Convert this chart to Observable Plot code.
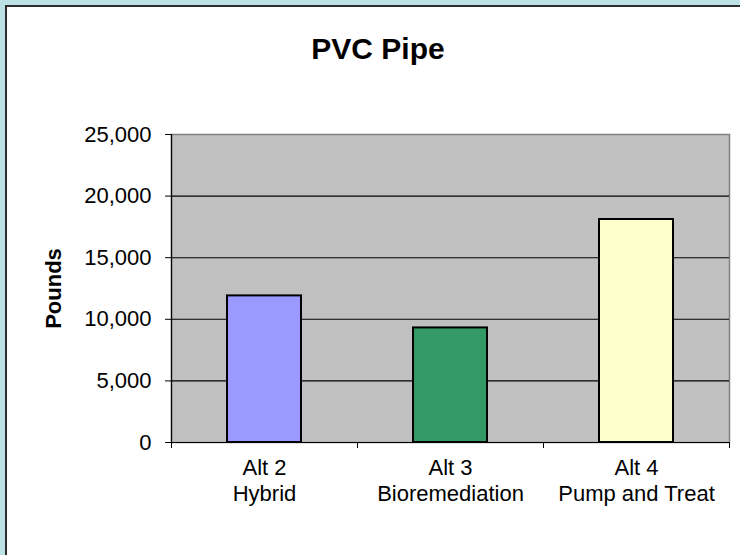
<!DOCTYPE html>
<html>
<head>
<meta charset="utf-8">
<script src="https://cdn.jsdelivr.net/npm/d3@7"></script>
<script src="https://cdn.jsdelivr.net/npm/@observablehq/plot@0.6"></script>
<style>
  html, body { margin: 0; padding: 0; width: 740px; height: 555px; overflow: hidden; background: #BDE2E5; font-family: "Liberation Sans", Arial, sans-serif; }
  #panel { position: absolute; left: 5px; top: 5px; width: 800px; height: 600px; background: #fff; border-left: 2px solid #2e2e2e; border-top: 2px solid #2e2e2e; }
  #title { position: absolute; left: 0; top: 34px; width: 756px; text-align: center; font-size: 30px; line-height: 30px; font-weight: bold; color: #000; }
  #chart { position: absolute; left: 0; top: 0; }
</style>
</head>
<body>
<div id="panel"></div>
<div id="title">PVC Pipe</div>
<div id="chart"></div>
<script>
const categories = ["Alt 2\nHybrid", "Alt 3\nBioremediation", "Alt 4\nPump and Treat"];
const pounds = [11900, 9300, 18100];
const barColors = ["#9999FF", "#339966", "#FFFFCC"];
const yTicks = [0, 5000, 10000, 15000, 20000, 25000];
const gridValues = [5000, 10000, 15000, 20000];

const data = categories.map((c, i) => ({cat: c, value: pounds[i], color: barColors[i], i}));
const bounds = d3.range(categories.length + 1);
const fmt = d3.format(",");

const chart = Plot.plot({
  width: 740,
  height: 555,
  marginLeft: 171,
  marginRight: 11,
  marginTop: 134,
  marginBottom: 113,
  style: {fontFamily: '"Liberation Sans", Arial, sans-serif', fontSize: "22px", color: "#000", background: "transparent"},
  x: {type: "linear", domain: [0, categories.length], axis: null},
  y: {domain: [0, 25000], axis: null},
  marks: [
    Plot.frame({fill: "#C0C0C0", stroke: "#808080", strokeWidth: 1.5}),
    Plot.ruleY(gridValues, {stroke: "#000", strokeWidth: 1.1}),
    Plot.rectY(data, {x1: d => d.i, x2: d => d.i + 1, y1: 0, y2: "value", fill: "color", stroke: "#000", strokeWidth: 2, insetLeft: 56, insetRight: 56}),
    Plot.ruleX([0], {stroke: "#000", strokeWidth: 1.2}),
    Plot.ruleY([0], {stroke: "#000", strokeWidth: 1.2}),
    Plot.axisY({ticks: yTicks, tickSize: 6, tickPadding: 14, tickFormat: fmt, stroke: "#000", fontSize: 22, label: null}),
    Plot.axisX({ticks: bounds, tickSize: 6, tickFormat: () => "", stroke: "#000", label: null}),
    Plot.text(data, {x: d => d.i + 0.5, text: "cat", frameAnchor: "bottom", lineAnchor: "top", dy: 14, lineHeight: 1.18, fontSize: 22, fill: "#000"}),
    Plot.text(["Pounds"], {text: d => d, frameAnchor: "left", textAnchor: "middle", dx: -118, rotate: -90, fontSize: 22, fontWeight: "bold", fill: "#000"})
  ]
});
document.getElementById("chart").appendChild(chart);
</script>
</body>
</html>
